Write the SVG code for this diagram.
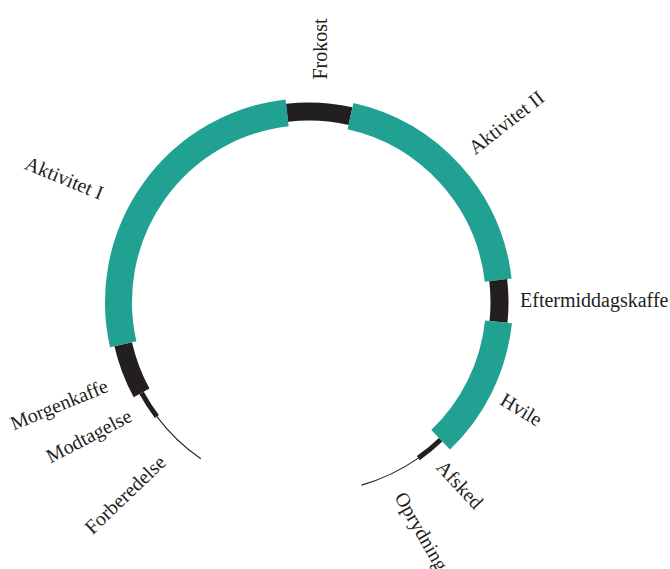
<svg xmlns="http://www.w3.org/2000/svg" width="670" height="569" viewBox="0 0 670 569">
<style>
.teal{fill:none;stroke:#21a191;stroke-width:27;stroke-linecap:butt}
.blk{fill:none;stroke:#231f20;stroke-width:18;stroke-linecap:butt}
.mid{fill:none;stroke:#231f20;stroke-width:5;stroke-linecap:butt}
.thin{fill:none;stroke:#231f20;stroke-width:1.1}
.lbl{font-family:"Liberation Serif","DejaVu Serif",serif;font-size:20px;fill:#231f20;text-anchor:middle}
</style>
<rect width="670" height="569" fill="#ffffff"/>
<g id="connectors">
<path id="arc-forberedelse" class="thin" d="M200.8 458.8 A190.5 190.5 0 0 1 156.9 416.6"/>
<path id="arc-oprydning" class="thin" d="M418.3 458.1 A190.5 190.5 0 0 1 361.5 485.1"/>
</g>
<g id="modtagelse"><path class="mid" d="M156.9 416.6 A190.5 190.5 0 0 1 141.6 392.9"/><text class="lbl" transform="translate(92 442) rotate(-27.5)">Modtagelse</text></g>
<g id="morgenkaffe"><path class="blk" d="M141.6 392.9 A190.5 190.5 0 0 1 123.2 344.2"/><text class="lbl" transform="translate(61.6 410.8) rotate(-22.3)">Morgenkaffe</text></g>
<g id="aktivitet1"><path class="teal" d="M123.2 344.2 A190.5 190.5 0 0 1 287.1 112.8"/><text class="lbl" transform="translate(61.7 184.2) rotate(22.4)">Aktivitet I</text></g>
<g id="frokost"><path class="blk" d="M287.1 112.8 A190.5 190.5 0 0 1 350.5 116.1"/><text class="lbl" transform="translate(327 49) rotate(-90)">Frokost</text></g>
<g id="aktivitet2"><path class="teal" d="M350.5 116.1 A190.5 190.5 0 0 1 498.2 280.1"/><text class="lbl" transform="translate(510.4 127.7) rotate(-38)">Aktivitet II</text></g>
<g id="eftermiddagskaffe"><path class="blk" d="M498.2 280.1 A190.5 190.5 0 0 1 498.5 321.9"/><text class="lbl" style="text-anchor:start" x="520" y="307">Eftermiddagskaffe</text></g>
<g id="hvile"><path class="teal" d="M498.5 321.9 A190.5 190.5 0 0 1 440.6 439.7"/><text class="lbl" transform="translate(517.8 415.3) rotate(31)">Hvile</text></g>
<g id="afsked"><path class="mid" d="M440.6 439.7 A190.5 190.5 0 0 1 418.3 458.1"/><text class="lbl" transform="translate(454.9 489.2) rotate(47)">Afsked</text></g>
<g id="forberedelse"><text class="lbl" transform="translate(129.8 499.5) rotate(-43.7)">Forberedelse</text></g>
<g id="oprydning"><text class="lbl" style="text-anchor:start" transform="translate(394 497) rotate(60)">Oprydning</text></g>
</svg>
